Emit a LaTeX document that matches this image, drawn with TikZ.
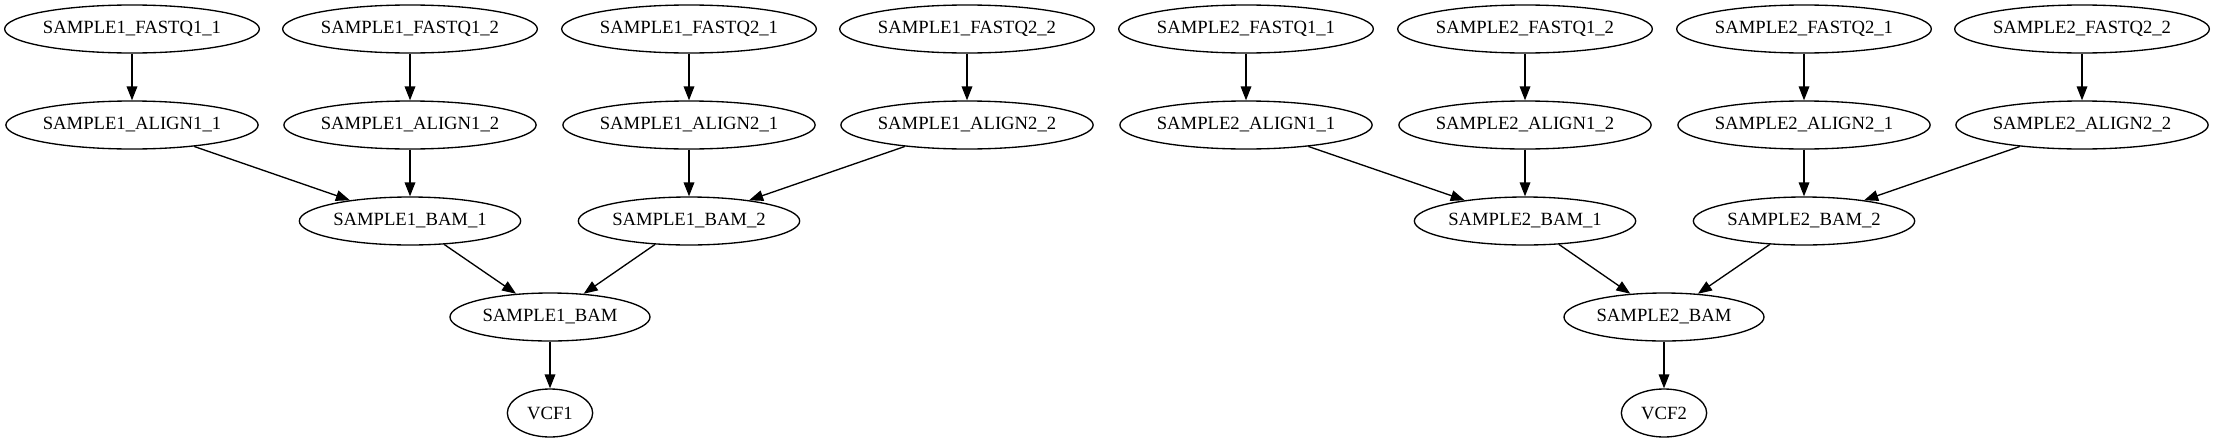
\documentclass[tikz,border=0pt]{standalone}
\usepackage{fontspec}
\setmainfont{Liberation Serif}
\usepackage{tikz}
\usetikzlibrary{shapes.geometric, arrows.meta}

% looks shared by every node and edge
\tikzset{
    job/.style={draw, ellipse, line width=1pt, inner sep=0pt,
                minimum height=36pt, font=\fontsize{14}{16}\selectfont},
    fastq/.style={job, minimum width=191pt},
    align/.style={job, minimum width=189pt},
    bampart/.style={job, minimum width=166pt},
    bammerge/.style={job, minimum width=150pt},
    vcf/.style={job, minimum width=64pt},
    flow/.style={line width=1pt, -{Triangle[length=10.5pt, width=8pt]}}
}

\begin{document}
\begin{tikzpicture}[x=0.75pt, y=-0.75pt]
    \useasboundingbox (0,0) rectangle (2215,443);

    % Sample 1: raw reads
    \node[fastq] (s1fq11) at (132,29) {SAMPLE1\_FASTQ1\_1};
    \node[fastq] (s1fq12) at (410,29) {SAMPLE1\_FASTQ1\_2};
    \node[fastq] (s1fq21) at (689,29) {SAMPLE1\_FASTQ2\_1};
    \node[fastq] (s1fq22) at (967,29) {SAMPLE1\_FASTQ2\_2};

    % Sample 1: alignments
    \node[align] (s1al11) at (132,125) {SAMPLE1\_ALIGN1\_1};
    \node[align] (s1al12) at (410,125) {SAMPLE1\_ALIGN1\_2};
    \node[align] (s1al21) at (689,125) {SAMPLE1\_ALIGN2\_1};
    \node[align] (s1al22) at (967,125) {SAMPLE1\_ALIGN2\_2};

    % Sample 1: bam files, merged bam and calls
    \node[bampart] (s1bam1) at (410,221) {SAMPLE1\_BAM\_1};
    \node[bampart] (s1bam2) at (689,221) {SAMPLE1\_BAM\_2};
    \node[bammerge] (s1bam) at (550,317) {SAMPLE1\_BAM};
    \node[vcf] (vcf1) at (550,413) {VCF1};

    % Sample 2: raw reads
    \node[fastq] (s2fq11) at (1246,29) {SAMPLE2\_FASTQ1\_1};
    \node[fastq] (s2fq12) at (1525,29) {SAMPLE2\_FASTQ1\_2};
    \node[fastq] (s2fq21) at (1804,29) {SAMPLE2\_FASTQ2\_1};
    \node[fastq] (s2fq22) at (2082,29) {SAMPLE2\_FASTQ2\_2};

    % Sample 2: alignments
    \node[align] (s2al11) at (1246,125) {SAMPLE2\_ALIGN1\_1};
    \node[align] (s2al12) at (1525,125) {SAMPLE2\_ALIGN1\_2};
    \node[align] (s2al21) at (1804,125) {SAMPLE2\_ALIGN2\_1};
    \node[align] (s2al22) at (2082,125) {SAMPLE2\_ALIGN2\_2};

    % Sample 2: bam files, merged bam and calls
    \node[bampart] (s2bam1) at (1525,221) {SAMPLE2\_BAM\_1};
    \node[bampart] (s2bam2) at (1804,221) {SAMPLE2\_BAM\_2};
    \node[bammerge] (s2bam) at (1664,317) {SAMPLE2\_BAM};
    \node[vcf] (vcf2) at (1664,413) {VCF2};

    % Sample 1 edges
    \draw[flow] (s1fq11) -- (s1al11);
    \draw[flow] (s1fq12) -- (s1al12);
    \draw[flow] (s1fq21) -- (s1al21);
    \draw[flow] (s1fq22) -- (s1al22);
    \draw[flow] (s1al11) -- (s1bam1);
    \draw[flow] (s1al12) -- (s1bam1);
    \draw[flow] (s1al21) -- (s1bam2);
    \draw[flow] (s1al22) -- (s1bam2);
    \draw[flow] (s1bam1) -- (s1bam);
    \draw[flow] (s1bam2) -- (s1bam);
    \draw[flow] (s1bam) -- (vcf1);

    % Sample 2 edges
    \draw[flow] (s2fq11) -- (s2al11);
    \draw[flow] (s2fq12) -- (s2al12);
    \draw[flow] (s2fq21) -- (s2al21);
    \draw[flow] (s2fq22) -- (s2al22);
    \draw[flow] (s2al11) -- (s2bam1);
    \draw[flow] (s2al12) -- (s2bam1);
    \draw[flow] (s2al21) -- (s2bam2);
    \draw[flow] (s2al22) -- (s2bam2);
    \draw[flow] (s2bam1) -- (s2bam);
    \draw[flow] (s2bam2) -- (s2bam);
    \draw[flow] (s2bam) -- (vcf2);
\end{tikzpicture}
\end{document}
